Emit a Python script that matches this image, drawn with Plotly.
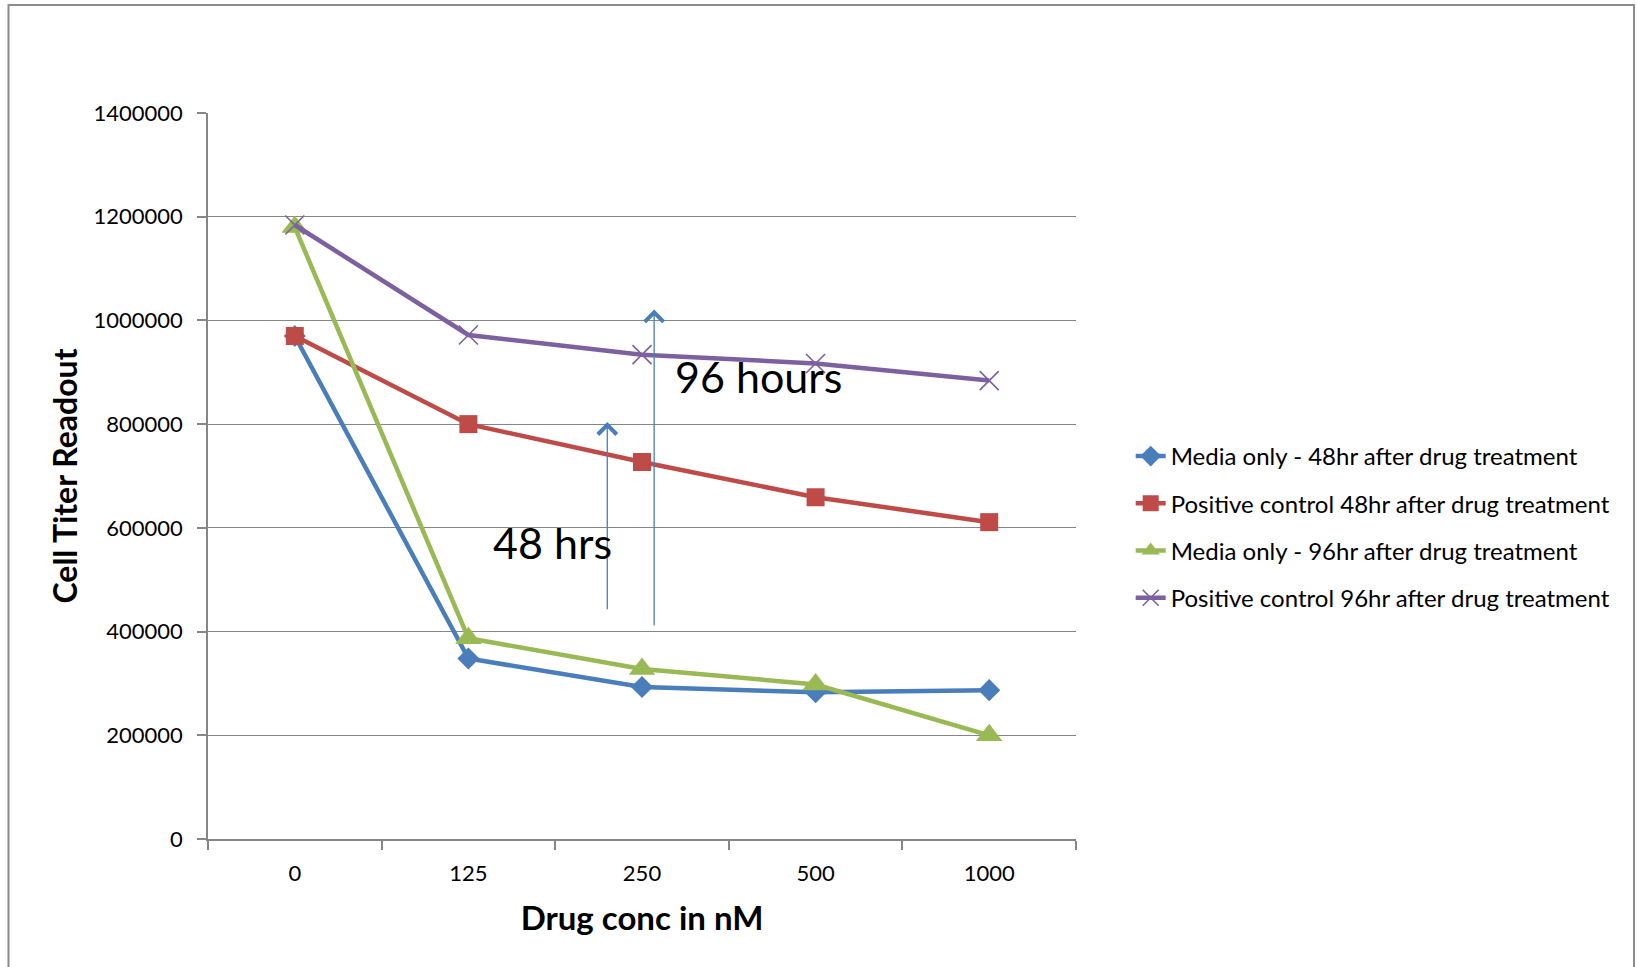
import plotly.graph_objects as go

categories = ["0", "125", "250", "500", "1000"]
media_48 = [970000, 348000, 293000, 283000, 287000]
positive_48 = [970000, 800000, 727000, 659000, 611000]
media_96 = [1180000, 387000, 328000, 298000, 200000]
positive_96 = [1184000, 972000, 934000, 917000, 884000]
series_names = [
    "Media only - 48hr after drug treatment",
    "Positive control 48hr after drug treatment",
    "Media only - 96hr after drug treatment",
    "Positive control 96hr after drug treatment",
]
y_ticks = [0, 200000, 400000, 600000, 800000, 1000000, 1200000, 1400000]

# arrows: (x index, tail y, head y)
arrow_48 = (1.8, 440000, 804000)
arrow_96 = (2.07, 409000, 1021000)

FONT = "Lato"
fig = go.Figure()

styles = [
    dict(color="#4A7EBB", symbol="diamond", size=17, lw=0),
    dict(color="#BE4B48", symbol="square", size=18, lw=0),
    dict(color="#98B954", symbol="triangle-up", size=23, lw=0),
    dict(color="#7D60A0", symbol="x-thin", size=19, lw=1.6),
]
for i, (name, vals) in enumerate(zip(series_names, [media_48, positive_48, media_96, positive_96])):
    s = styles[i]
    marker = dict(symbol=s["symbol"], size=s["size"], color=s["color"])
    if s["lw"]:
        marker["line"] = dict(color=s["color"], width=s["lw"])
    fig.add_trace(go.Scatter(
        x=categories, y=vals, name=name, mode="lines+markers",
        line=dict(color=s["color"], width=4.5),
        marker=marker, legendgroup=f"g{i}",
    ))

for (xa, y0, y1) in [arrow_48, arrow_96]:
    fig.add_annotation(
        x=xa, y=y1, ax=xa, ay=y0, xref="x", yref="y", axref="x", ayref="y",
        text="", showarrow=True, arrowhead=4, arrowsize=2.8, arrowwidth=1.3,
        arrowcolor="#4A7EBB", standoff=0,
    )

fig.add_annotation(x=1.13, y=572000, xref="x", yref="y", text="48 hrs",
                   showarrow=False, xanchor="left", yanchor="middle",
                   font=dict(family=FONT, size=43, color="#000000"))
fig.add_annotation(x=2.18, y=891000, xref="x", yref="y", text="96 hours",
                   showarrow=False, xanchor="left", yanchor="middle",
                   font=dict(family=FONT, size=43, color="#000000"))

# outer chart frame
fig.add_shape(type="rect", xref="paper", yref="paper",
              x0=(8.5 - 208) / 868, x1=(1634 - 208) / 868,
              y0=(839 - 1000) / 726, y1=(839 - 5) / 726,
              line=dict(color="#8C8C8C", width=2), layer="below")

fig.update_layout(
    width=1637, height=967,
    margin=dict(l=208, r=561, t=113, b=128),
    paper_bgcolor="white", plot_bgcolor="white",
    font=dict(family=FONT, size=22, color="#000000"),
    showlegend=True,
    legend=dict(x=1.063, y=(839 - 527) / 726, xanchor="left", yanchor="middle",
                font=dict(family=FONT, size=24, color="#000000"),
                tracegroupgap=13, bgcolor="rgba(0,0,0,0)"),
    xaxis=dict(
        type="category", range=[-0.5, 4.5], showgrid=False,
        showline=True, linecolor="#868686", linewidth=1.5,
        ticks="outside", tickson="boundaries", ticklen=9, tickcolor="#868686", tickwidth=1.5,
        tickfont=dict(family=FONT, size=22), ticklabelstandoff=14,
        title=dict(text="<b>Drug conc in nM</b>", font=dict(family=FONT, size=33), standoff=22),
    ),
    yaxis=dict(
        range=[0, 1400000], tickvals=y_ticks, tickformat="d",
        showgrid=True, gridcolor="#868686", gridwidth=1.2,
        showline=True, linecolor="#868686", linewidth=1.5, zeroline=False,
        ticks="outside", ticklen=9, tickcolor="#868686", tickwidth=1.5,
        tickfont=dict(family=FONT, size=22), ticklabelstandoff=10,
        title=dict(text="<b>Cell Titer Readout</b>", font=dict(family=FONT, size=32), standoff=6),
    ),
)

fig.write_html("out.html")
